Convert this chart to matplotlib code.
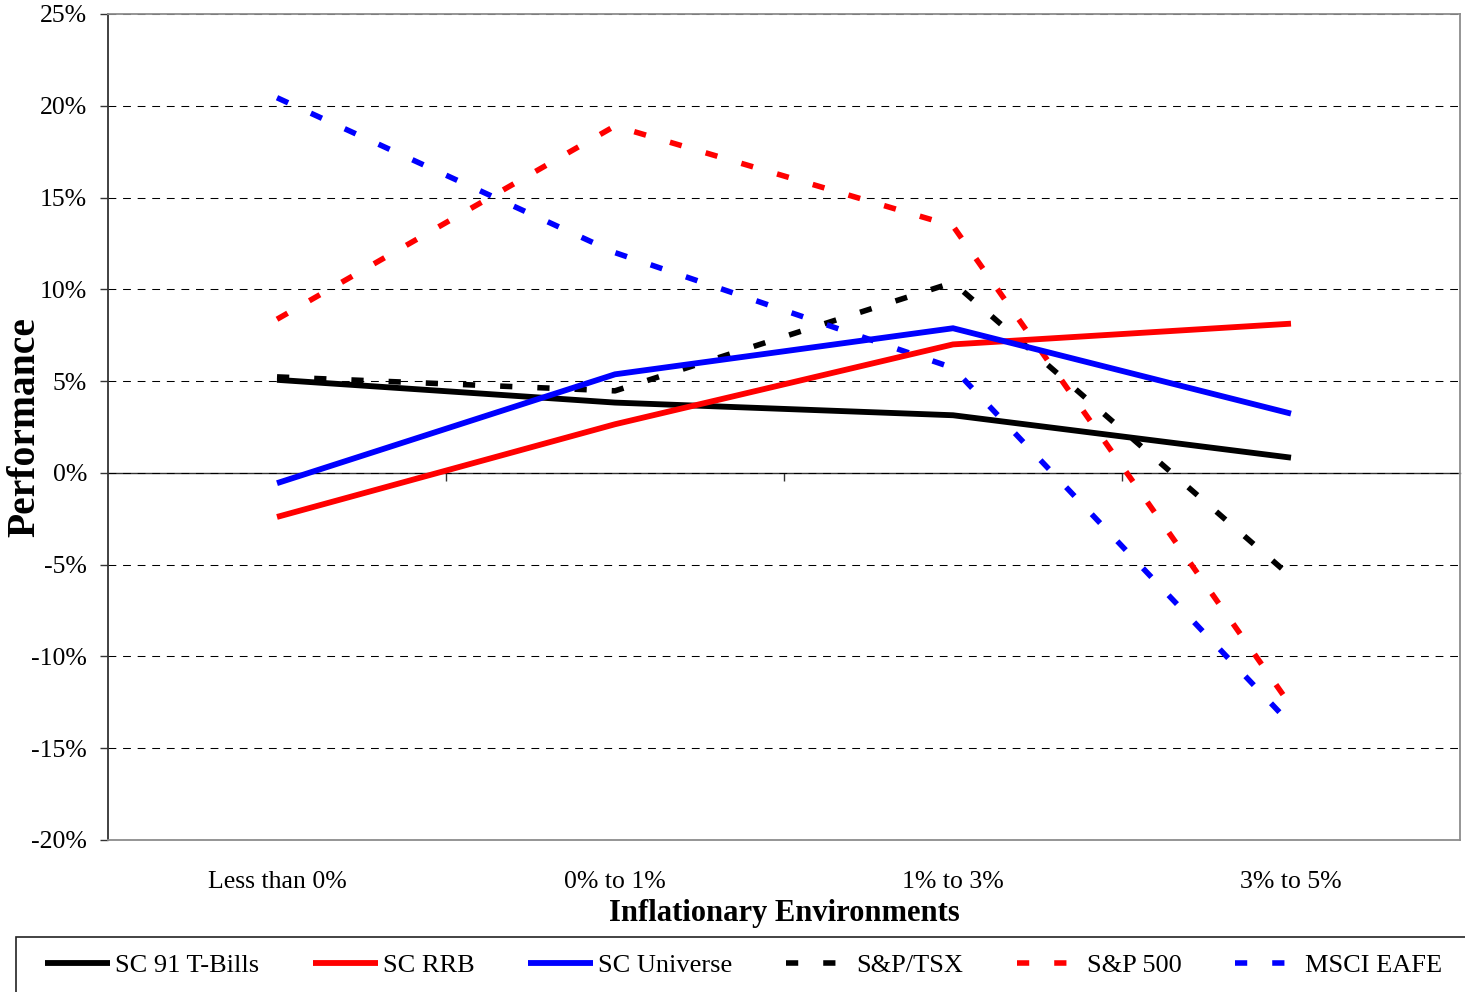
import matplotlib
matplotlib.use("Agg")
import matplotlib.pyplot as plt
from matplotlib.patches import Rectangle


# ==========================================================
#   Datos: rendimiento por entorno inflacionario (%)
# ==========================================================

entornos = ["Less than 0%", "0% to 1%", "1% to 3%", "3% to 5%"]

tbills = [5.07, 3.83, 3.14, 0.83]
rrb = [-2.40, 2.65, 7.00, 8.13]
universe = [-0.56, 5.37, 7.88, 3.23]
sptsx = [5.23, 4.47, 10.37, -5.65]
sp500 = [8.37, 18.90, 13.45, -12.70]
eafe = [20.44, 12.00, 5.72, -13.70]

yticks = [-20, -15, -10, -5, 0, 5, 10, 15, 20, 25]


# ==========================================================
#   Gráfico
# ==========================================================

plt.rcParams["font.family"] = ["Liberation Serif", "DejaVu Serif"]

fig = plt.figure(figsize=(14.65, 9.92), dpi=100)
ax = fig.add_axes([108 / 1465, 1 - 840 / 992, 1352 / 1465, 826 / 992])

x = list(range(len(entornos)))

dash = (0, (2.2, 4.5))
series = [
    ("SC 91 T-Bills", tbills, "black", "-", 4.2),
    ("SC RRB", rrb, "#ff0000", "-", 4.2),
    ("SC Universe", universe, "#0000ff", "-", 4.2),
    ("S&P/TSX", sptsx, "black", dash, 4.0),
    ("S&P 500", sp500, "#ff0000", dash, 4.0),
    ("MSCI EAFE", eafe, "#0000ff", dash, 4.0),
]

handles = []
# las líneas punteadas van debajo de las sólidas
for nombre, vals, color, ls, lw in series:
    z = 4 if ls == "-" else 3
    ln, = ax.plot(x, vals, color=color, linestyle=ls, linewidth=lw,
                  solid_capstyle="butt", dash_capstyle="butt",
                  solid_joinstyle="miter", zorder=z, label=nombre)
    handles.append(ln)

ax.set_xlim(-0.5, 3.5)
ax.set_ylim(-20, 25)

# grilla horizontal punteada
ax.set_yticks(yticks)
ax.set_yticklabels([f"{v}%" for v in yticks], fontsize=18.5)
ax.yaxis.grid(True, color="black", linewidth=0.75, linestyle=(0, (7.5, 6.5)))
ax.set_axisbelow(True)

# marco del área de trazado
for lado in ["top", "right", "bottom"]:
    ax.spines[lado].set_color("#8c8c8c")
    ax.spines[lado].set_linewidth(1.3)
ax.spines["left"].set_color("#333333")
ax.spines["left"].set_linewidth(1.3)
ax.tick_params(axis="y", direction="out", length=6, width=1, color="#333333", pad=9)

# etiquetas de categoría abajo, sin marcas
ax.set_xticks(x)
ax.set_xticklabels(entornos, fontsize=18.5)
ax.tick_params(axis="x", length=0, pad=22)

# eje de categorías cruzando en 0 con marcas entre categorías
eje0 = ax.secondary_xaxis(0, transform=ax.transData)
eje0.set_xticks([0.5, 1.5, 2.5])
eje0.set_xticklabels([])
eje0.tick_params(direction="out", length=6, width=1, color="#333333")
eje0.spines["bottom"].set_color("#333333")
eje0.spines["bottom"].set_linewidth(1.0)

ax.set_xlabel("Inflationary Environments", fontsize=22, fontweight="bold")
ax.xaxis.set_label_coords(0.5, -(914 - 840) / 826)
ax.xaxis.label.set_va("center")
ax.set_ylabel("Performance", fontsize=28.5, fontweight="bold")
ax.yaxis.set_label_coords(-(108 - 25) / 1352, 0.5)
ax.yaxis.label.set_va("center")

# leyenda inferior en una sola fila
marco = Rectangle((16 / 1465, -0.01), 1.0, 1 - 937 / 992 + 0.01,
                  transform=fig.transFigure, fill=False,
                  edgecolor="#222222", linewidth=1.2)
fig.patches.append(marco)

fig.legend(handles, [h.get_label() for h in handles],
           loc="center left", bbox_to_anchor=(45 / 1465, 1 - 965 / 992),
           ncol=6, frameon=False, fontsize=19, borderpad=0, borderaxespad=0,
           handlelength=2.45, handletextpad=0.19, columnspacing=2.05)

fig.savefig("out.png", dpi=100)
plt.close(fig)
